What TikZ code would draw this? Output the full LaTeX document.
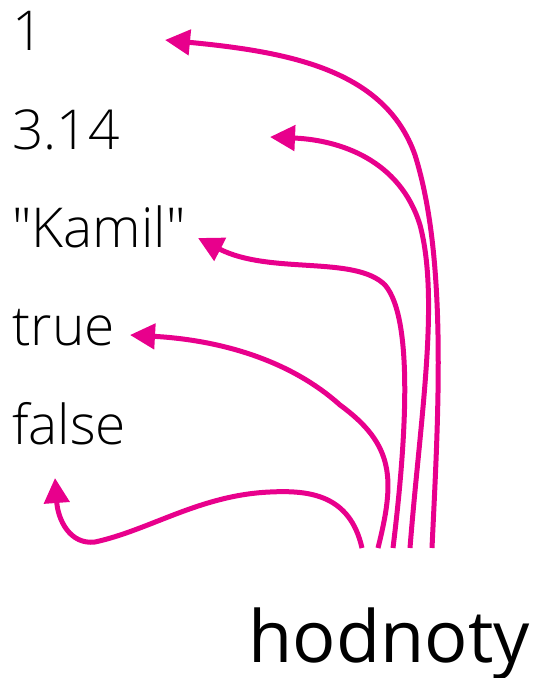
\documentclass[tikz,border=0pt]{standalone}
\usepackage{fontspec}
\setmainfont{Open Sans}[UprightFont=* Light, Ligatures=TeXOff]
\newfontfamily\regfont{Open Sans}
\usetikzlibrary{arrows.meta}
\definecolor{hodnotapink}{RGB}{232,0,140}
\begin{document}
\begin{tikzpicture}[x=1pt, y=-1pt, >={Triangle[length=25pt,width=25pt]},
  hodnota/.style={anchor=base west, inner sep=0pt, font=\fontsize{55}{60}\selectfont},
  sipka/.style={->, hodnotapink, line width=5pt}]
\useasboundingbox (0,0) rectangle (538,678);

% hodnoty vlevo
\node[hodnota] (jedna) at (12,50) {1};
\node[hodnota] (pi) at (12,149) {3.14};
\node[hodnota] (kamil) at (12,247) {"Kamil"};
\node[hodnota] (true) at (12,345) {true};
\node[hodnota] (false) at (12,444) {false};

% popisek dole
\node[anchor=base east, inner sep=0pt, font=\regfont\fontsize{72}{80}\selectfont] (hodnoty) at (530,662) {hodnoty};

% konce sipek
\coordinate (z1) at (432,548);
\coordinate (z2) at (410,548);
\coordinate (z3) at (393,548);
\coordinate (z4) at (378,548);
\coordinate (z5) at (362,548);
\coordinate (k1) at (165,40);
\coordinate (k2) at (270,137);
\coordinate (k3) at (198,238);
\coordinate (k4) at (130,335);
\coordinate (k5) at (55,478);

% sipky
\draw[sipka] (z1) .. controls (438,420) and (448,260) .. (415,155) .. controls (385,70) and (290,52) .. (k1);
\draw[sipka] (z2) .. controls (420,420) and (440,300) .. (420,225) .. controls (400,160) and (340,140) .. (k2);
\draw[sipka] (z3) .. controls (405,450) and (415,320) .. (385,285) .. controls (355,255) and (270,275) .. (k3);
\draw[sipka] (z4) .. controls (395,480) and (395,445) .. (340,405) .. controls (290,360) and (220,340) .. (k4);
\draw[sipka] (z5) .. controls (350,495) and (310,490) .. (270,492) .. controls (200,495) and (150,530) .. (95,542) .. controls (70,545) and (58,520) .. (k5);

\end{tikzpicture}
\end{document}
